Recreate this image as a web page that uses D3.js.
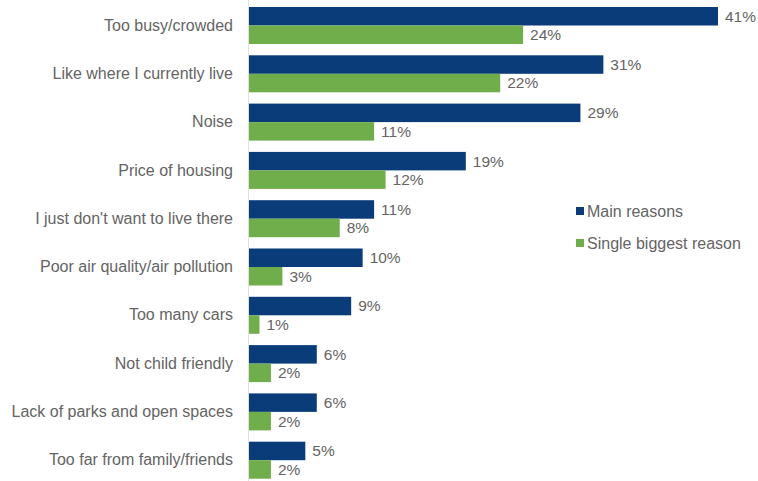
<!DOCTYPE html>
<html>
<head>
<meta charset="utf-8">
<script src="https://cdn.jsdelivr.net/npm/d3@7"></script>
<style>
  html, body { margin: 0; padding: 0; background: #fff; }
  svg { display: block; }
  text { font-family: "Liberation Sans", Arial, sans-serif; fill: #646464; }
</style>
</head>
<body>
<script>
// Reasons for not wanting to live in the city
const categories = [
  "Too busy/crowded",
  "Like where I currently live",
  "Noise",
  "Price of housing",
  "I just don't want to live there",
  "Poor air quality/air pollution",
  "Too many cars",
  "Not child friendly",
  "Lack of parks and open spaces",
  "Too far from family/friends"
];
const mainReasons = [41, 31, 29, 19, 11, 10, 9, 6, 6, 5];
const singleBiggest = [24, 22, 11, 12, 8, 3, 1, 2, 2, 2];
const seriesNames = ["Main reasons", "Single biggest reason"];
const seriesColors = ["#0b3c7a", "#70ad4b"];

const width = 758, height = 481;
const margin = { top: 7, left: 248 };
const step = 48.3, groupH = 37;

const svg = d3.select("body").append("svg")
  .attr("width", width).attr("height", height);

const x = d3.scaleLinear().domain([0, 41]).range([margin.left, 718]);
const pad = (step - groupH) / step;
const y = d3.scaleBand().domain(categories)
  .range([margin.top, margin.top + step * (categories.length - pad)])
  .paddingInner(pad).paddingOuter(0).align(0);
const sub = d3.scaleBand().domain(seriesNames).range([0, y.bandwidth()]);

const rows = categories.map((c, i) => ({ c, vals: [mainReasons[i], singleBiggest[i]] }));

const g = svg.selectAll("g.row").data(rows).join("g")
  .attr("class", "row")
  .attr("transform", d => `translate(0,${y(d.c)})`);

g.selectAll("rect").data(d => d.vals.map((v, k) => ({ v, k }))).join("rect")
  .attr("x", x(0))
  .attr("y", d => sub(seriesNames[d.k]))
  .attr("width", d => x(d.v) - x(0))
  .attr("height", sub.bandwidth())
  .attr("fill", d => seriesColors[d.k]);

g.selectAll("text.val").data(d => d.vals.map((v, k) => ({ v, k }))).join("text")
  .attr("class", "val")
  .attr("x", d => x(d.v) + 7)
  .attr("y", d => sub(seriesNames[d.k]) + sub.bandwidth() / 2)
  .attr("dy", "0.35em")
  .attr("font-size", 15.5)
  .text(d => d.v + "%");

// category axis
const axis = svg.append("g")
  .attr("transform", `translate(${x(0)},0)`)
  .call(d3.axisLeft(y).tickSize(0).tickPadding(15));
axis.select(".domain").attr("stroke", "#e0e0e0").attr("stroke-width", 1)
  .attr("d", `M0.5,0V${height}`);
axis.selectAll(".tick text")
  .attr("font-size", 16)
  .attr("font-family", "Liberation Sans, Arial, sans-serif")
  .attr("fill", "#646464");

// legend
const legend = svg.append("g").attr("transform", "translate(576,211)");
const li = legend.selectAll("g").data(seriesNames).join("g")
  .attr("transform", (d, i) => `translate(0,${i * 32})`);
li.append("rect").attr("x", 0).attr("y", -4).attr("width", 8).attr("height", 8)
  .attr("fill", (d, i) => seriesColors[i]);
li.append("text").attr("x", 11).attr("y", 0).attr("dy", "0.35em")
  .attr("font-size", 16).text(d => d);
</script>
</body>
</html>
